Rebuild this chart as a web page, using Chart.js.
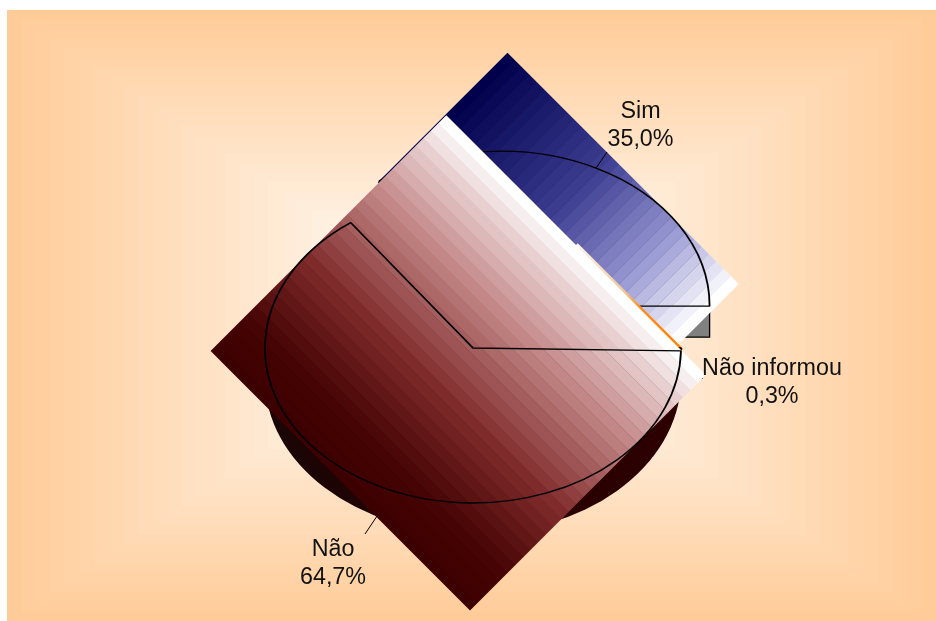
<!DOCTYPE html>
<html lang="pt">
<head>
  <meta charset="UTF-8" />
  <title>Pizza 3D</title>
  <script src="https://cdn.jsdelivr.net/npm/chart.js"></script>
  <style>
    html, body { margin: 0; background: #fff; }
    canvas { display: block; }
  </style>
</head>
<body>
  <canvas id="pie" width="936" height="621"></canvas>

  <script>
    const categories = ["Não informou", "Não", "Sim"];
    const values = [0.3, 64.7, 35.0];

    // pie look: tilt, wall height, pulled-out slice
    const TILT = 155 / 208;
    const DEPTH = 31;
    const EXPLODE = [0, 0, 63];
    const DRAW_ORDER = [2, 0, 1];
    const BANDS = 31;

    // per slice: which diagonal the shading runs along and its colour ramp
    const shading = [
      { axis: "u", padLo: 0, padHi: 0, crossPad: 1.5, bands: 1, stops: [[0, [255, 244, 232]], [0.45, [240, 200, 150]], [0.6, [255, 140, 30]], [1, [255, 128, 0]]] },
      { axis: "v", padLo: 6, padHi: 1, crossPad: 0, bands: BANDS, stops: [[0, [61, 0, 0]], [0.15, [72, 5, 5]], [0.4, [128, 43, 43]], [0.7, [195, 135, 135]], [0.9, [232, 208, 208]], [1, [255, 255, 255]]] },
      { axis: "u", padLo: 0, padHi: 7, crossPad: 0, bands: BANDS, stops: [[0, [0, 0, 77]], [0.45, [62, 62, 146]], [0.75, [150, 150, 210]], [1, [255, 255, 255]]] }
    ];

    // label centre and where its leader line stops
    const labelBoxes = [
      { x: 772, y: 367, leadX: 703, leadY: 378 },
      { x: 333, y: 548, leadX: 365, leadY: 534 },
      { x: 640.5, y: 110, leadX: 607, leadY: 152 }
    ];

    function rampColor(stops, f) {
      for (let i = 1; i < stops.length; i++) {
        if (f <= stops[i][0]) {
          const t = (f - stops[i - 1][0]) / (stops[i][0] - stops[i - 1][0]);
          const c = stops[i - 1][1].map((a, k) => Math.round(a + (stops[i][1][k] - a) * t));
          return `rgb(${c[0]},${c[1]},${c[2]})`;
        }
      }
      return "#fff";
    }

    // centre of a slice on screen, after the pull-out
    function sliceCentre(arc, i) {
      const mid = (arc.startAngle + arc.endAngle) / 2;
      return {
        x: arc.x + Math.cos(mid) * EXPLODE[i],
        y: arc.y + Math.sin(mid) * EXPLODE[i] * TILT,
        mid
      };
    }

    // extent of the flattened slice along the two diagonals u = x + y, v = x - y
    function diagonalBox(arc, c) {
      const box = { ulo: c.x + c.y, uhi: c.x + c.y, vlo: c.x - c.y, vhi: c.x - c.y };
      for (let a = arc.startAngle; a <= arc.endAngle + 1e-6; a += (arc.endAngle - arc.startAngle) / 360) {
        const x = c.x + Math.cos(a) * arc.outerRadius;
        const y = c.y + Math.sin(a) * arc.outerRadius * TILT;
        box.ulo = Math.min(box.ulo, x + y);
        box.uhi = Math.max(box.uhi, x + y);
        box.vlo = Math.min(box.vlo, x - y);
        box.vhi = Math.max(box.vhi, x - y);
      }
      return box;
    }

    const fromDiag = (u, v) => [(u + v) / 2, (u - v) / 2];

    function slicePath(ctx, arc, c) {
      ctx.beginPath();
      ctx.moveTo(c.x, c.y);
      ctx.ellipse(c.x, c.y, arc.outerRadius, arc.outerRadius * TILT, 0, arc.startAngle, arc.endAngle);
      ctx.closePath();
    }

    // shaded diamond behind the slice, then the seams between bands inside the slice
    function drawShade(ctx, arc, c, i) {
      const s = shading[i];
      const b = diagonalBox(arc, c);
      const isU = s.axis === "u";
      const lo = (isU ? b.ulo : b.vlo) - s.padLo;
      const hi = (isU ? b.uhi : b.vhi) + s.padHi;
      const p = (along, across) => (isU ? fromDiag(along, across) : fromDiag(across, along));
      const crossLo = (isU ? b.vlo : b.ulo) - s.crossPad;
      const crossHi = (isU ? b.vhi : b.uhi) + s.crossPad;

      const start = p(lo, crossLo);
      const end = p(hi, crossLo);
      const grad = ctx.createLinearGradient(start[0], start[1], end[0], end[1]);
      if (s.bands > 1) {
        for (let n = 0; n < s.bands; n++) {
          const col = rampColor(s.stops, n / (s.bands - 1));
          grad.addColorStop(n / s.bands, col);
          grad.addColorStop((n + 1) / s.bands, col);
        }
      } else {
        s.stops.forEach(st => grad.addColorStop(st[0], rampColor(s.stops, st[0])));
      }

      ctx.fillStyle = grad;
      ctx.beginPath();
      [p(lo, crossLo), p(hi, crossLo), p(hi, crossHi), p(lo, crossHi)].forEach((q, k) => {
        if (k) ctx.lineTo(q[0], q[1]); else ctx.moveTo(q[0], q[1]);
      });
      ctx.closePath();
      ctx.fill();

      if (s.bands > 1) {
        ctx.save();
        slicePath(ctx, arc, c);
        ctx.clip();
        ctx.strokeStyle = "rgba(0,0,0,0.2)";
        ctx.lineWidth = 0.5;
        for (let n = 1; n < s.bands; n++) {
          const a = lo + (hi - lo) * n / s.bands;
          const q0 = p(a, crossLo);
          const q1 = p(a, crossHi);
          ctx.beginPath();
          ctx.moveTo(q0[0], q0[1]);
          ctx.lineTo(q1[0], q1[1]);
          ctx.stroke();
        }
        ctx.restore();
      }
    }

    // outer wall of the lower half, plus the grey cut face of a slice ending on the east side
    function drawWalls(ctx, arc, c) {
      const r = arc.outerRadius;
      const from = Math.max(arc.startAngle, 0);
      const to = Math.min(arc.endAngle, Math.PI);
      if (to > from) {
        const grad = ctx.createLinearGradient(c.x - r, 0, c.x + r, 0);
        grad.addColorStop(0, "#1a0505");
        grad.addColorStop(1, "#2e0000");
        ctx.fillStyle = grad;
        ctx.beginPath();
        ctx.ellipse(c.x, c.y + DEPTH, r, r * TILT, 0, from, to);
        ctx.ellipse(c.x, c.y, r, r * TILT, 0, to, from, true);
        ctx.closePath();
        ctx.fill();
      }
      if (arc.startAngle > Math.PI && Math.abs(arc.endAngle - 2 * Math.PI) < 1e-3) {
        ctx.fillStyle = "#808080";
        ctx.strokeStyle = "#000";
        ctx.lineWidth = 1.3;
        ctx.beginPath();
        ctx.rect(c.x, c.y, r, DEPTH);
        ctx.fill();
        ctx.stroke();
      }
    }

    // the library's own arc, flattened and moved to the slice centre
    function drawOutline(ctx, arc, c) {
      ctx.save();
      ctx.translate(c.x, c.y);
      ctx.scale(1, TILT);
      ctx.translate(-arc.x, -arc.y);
      arc.draw(ctx);
      ctx.restore();
    }

    function drawLeader(ctx, arc, c, i) {
      const y = c.y + Math.sin(c.mid) * arc.outerRadius * TILT;
      const lead = labelBoxes[i];
      ctx.strokeStyle = "#000";
      ctx.lineWidth = 1;
      ctx.beginPath();
      ctx.moveTo(c.x + Math.cos(c.mid) * arc.outerRadius, y + (Math.sin(c.mid) > 0 ? DEPTH : 0));
      ctx.lineTo(lead.leadX, lead.leadY);
      ctx.stroke();
    }

    const backdrop = {
      id: "backdrop",
      beforeDraw(chart) {
        const ctx = chart.ctx;
        const left = 7, top = 10, w = 929, h = 611, steps = 32;
        for (let n = 0; n < steps; n++) {
          const f = n / steps;
          const t = n / (steps - 1);
          ctx.fillStyle = `rgb(255,${Math.round(204 + 51 * t)},${Math.round(153 + 102 * t)})`;
          ctx.fillRect(left + w / 2 * f, top + h / 2 * f, w * (1 - f), h * (1 - f));
        }
      }
    };

    const tiltedPie = {
      id: "tiltedPie",
      beforeDatasetDraw(chart, args) {
        const ctx = chart.ctx;
        const arcs = args.meta.data;
        DRAW_ORDER.forEach(i => {
          const arc = arcs[i];
          const c = sliceCentre(arc, i);
          ctx.save();
          drawWalls(ctx, arc, c);
          drawShade(ctx, arc, c, i);
          drawOutline(ctx, arc, c);
          drawLeader(ctx, arc, c, i);
          ctx.restore();
        });
        return false;
      },
      afterDatasetsDraw(chart) {
        const ctx = chart.ctx;
        ctx.save();
        ctx.fillStyle = "#111";
        ctx.font = '23.3px "Liberation Sans", Arial, sans-serif';
        ctx.textAlign = "center";
        ctx.textBaseline = "middle";
        categories.forEach((name, i) => {
          const box = labelBoxes[i];
          ctx.fillText(name, box.x, box.y + 1.5);
          ctx.fillText(values[i].toFixed(1).replace(".", ",") + "%", box.x, box.y + 29.5);
        });
        ctx.restore();
      }
    };

    new Chart(document.getElementById("pie"), {
      type: "pie",
      data: {
        labels: categories,
        datasets: [{
          data: values,
          backgroundColor: "rgba(0,0,0,0)",
          borderColor: "#000",
          borderWidth: 1.8
        }]
      },
      options: {
        responsive: false,
        animation: false,
        devicePixelRatio: 1,
        rotation: 90,
        radius: 208,
        layout: { padding: { left: 10, top: 75 } },
        plugins: { legend: { display: false }, tooltip: { enabled: false } }
      },
      plugins: [backdrop, tiltedPie]
    });
  </script>
</body>
</html>
